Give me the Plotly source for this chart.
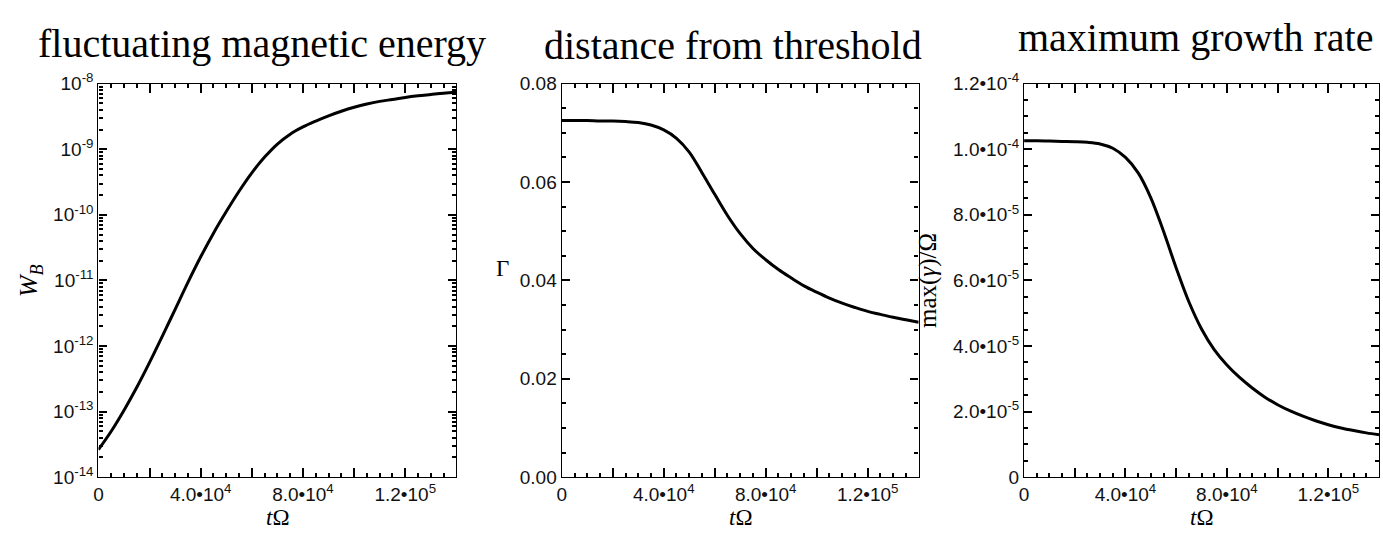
import plotly.graph_objects as go

# Time axis (t * Omega), sampled every 5e3
t_omega = [0, 5e3, 10e3, 15e3, 20e3, 25e3, 30e3, 35e3, 40e3, 45e3, 50e3, 55e3, 60e3, 65e3, 70e3,
           75e3, 80e3, 85e3, 90e3, 95e3, 100e3, 105e3, 110e3, 115e3, 120e3, 125e3, 130e3, 135e3, 140e3]

# Fluctuating magnetic energy W_B
w_b = [2.63e-14, 5.01e-14, 1.047e-13, 2.344e-13, 5.62e-13, 1.413e-12, 3.63e-12, 9.33e-12, 2.29e-11,
       5.25e-11, 1.122e-10, 2.29e-10, 4.37e-10, 7.59e-10, 1.202e-9, 1.698e-9, 2.188e-9, 2.69e-9,
       3.236e-9, 3.80e-9, 4.365e-9, 4.90e-9, 5.37e-9, 5.75e-9, 6.17e-9, 6.53e-9, 6.84e-9, 7.16e-9,
       7.41e-9]

# Distance from threshold Gamma
gamma_dist = [0.0725, 0.0725, 0.0725, 0.0724, 0.0724, 0.0723, 0.0721, 0.0716, 0.0706, 0.0689,
              0.0661, 0.0619, 0.0575, 0.0532, 0.0495, 0.0465, 0.0442, 0.0422, 0.0405, 0.0389,
              0.0376, 0.0364, 0.0354, 0.0345, 0.0337, 0.0331, 0.0325, 0.0320, 0.0315]

# Maximum growth rate max(gamma)/Omega
growth_max = [1.026e-4, 1.026e-4, 1.025e-4, 1.024e-4, 1.023e-4, 1.021e-4, 1.016e-4, 1.003e-4,
              0.975e-4, 0.928e-4, 0.852e-4, 0.750e-4, 0.638e-4, 0.535e-4, 0.452e-4, 0.389e-4,
              0.342e-4, 0.304e-4, 0.272e-4, 0.244e-4, 0.221e-4, 0.202e-4, 0.186e-4, 0.172e-4,
              0.160e-4, 0.150e-4, 0.142e-4, 0.135e-4, 0.129e-4]

# Tick labels
x_tickvals = [0, 2e4, 4e4, 6e4, 8e4, 1e5, 1.2e5, 1.4e5]
x_ticktext = ["0", " ", "4.0•10<sup>4</sup>", " ", "8.0•10<sup>4</sup>", " ", "1.2•10<sup>5</sup>", " "]
wb_tickvals = [1e-14, 1e-13, 1e-12, 1e-11, 1e-10, 1e-9, 1e-8]
wb_ticktext = ["10<sup>-14</sup>", "10<sup>-13</sup>", "10<sup>-12</sup>", "10<sup>-11</sup>",
               "10<sup>-10</sup>", "10<sup>-9</sup>", "10<sup>-8</sup>"]
g_tickvals = [0, 0.02, 0.04, 0.06, 0.08]
g_ticktext = ["0.00", "0.02", "0.04", "0.06", "0.08"]
m_tickvals = [0, 2e-5, 4e-5, 6e-5, 8e-5, 1e-4, 1.2e-4]
m_ticktext = ["0", "2.0•10<sup>-5</sup>", "4.0•10<sup>-5</sup>", "6.0•10<sup>-5</sup>",
              "8.0•10<sup>-5</sup>", "1.0•10<sup>-4</sup>", "1.2•10<sup>-4</sup>"]

W, H = 1383, 534
TICK_FONT = dict(family="Liberation Sans, Arial, sans-serif", size=19, color="#111")
SERIF = "Liberation Serif, Times New Roman, serif"
LINE = dict(color="black", width=3)


def px_x(p):
    return p / W


def px_y(p):
    return 1 - p / H


y_dom = [px_y(486), px_y(74)]
x_doms = [[px_x(94), px_x(454)], [px_x(560), px_x(919)], [px_x(1025), px_x(1382)]]

fig = go.Figure()
series = [w_b, gamma_dist, growth_max]
for i, ys in enumerate(series):
    sfx = "" if i == 0 else str(i + 1)
    fig.add_trace(go.Scatter(x=t_omega, y=ys, mode="lines", line=LINE, line_shape="spline",
                             xaxis="x" + sfx, yaxis="y" + sfx, showlegend=False))

# Boxed frame with inward ticks mirrored on all four sides
base = dict(showline=True, linecolor="black", linewidth=1.4, showgrid=False, zeroline=False,
            tickfont=TICK_FONT, ticks="inside", mirror="allticks", tickcolor="black", tickwidth=1.5)


def minor_ticks(**kw):
    return dict(ticks="inside", ticklen=4, tickcolor="black", tickwidth=1.5, **kw)


for i in range(3):
    sfx = "" if i == 0 else str(i + 1)
    fig.layout["xaxis" + sfx] = dict(
        base, domain=x_doms[i], anchor="y" + sfx, range=[0, 1.4e5],
        tickmode="array", tickvals=x_tickvals, ticktext=x_ticktext, ticklen=9,
        minor=minor_ticks(tick0=0, dtick=5e3))

minor_log = [k * 10.0 ** e for e in range(-14, -8) for k in range(2, 10)]
fig.layout.yaxis = dict(base, domain=y_dom, anchor="x", type="log", range=[-14, -8],
                        tickmode="array", tickvals=wb_tickvals, ticktext=wb_ticktext, ticklen=8,
                        minor=minor_ticks(tickmode="array", tickvals=minor_log))
fig.layout.yaxis2 = dict(base, domain=y_dom, anchor="x2", range=[0, 0.08],
                         tickmode="array", tickvals=g_tickvals, ticktext=g_ticktext, ticklen=8,
                         minor=minor_ticks(tick0=0, dtick=0.005))
fig.layout.yaxis3 = dict(base, domain=y_dom, anchor="x3", range=[0, 1.2e-4],
                         tickmode="array", tickvals=m_tickvals, ticktext=m_ticktext, ticklen=8,
                         minor=minor_ticks(tick0=0, dtick=5e-6))

annotations = []
# Panel titles
for text, cx, cy in [("fluctuating magnetic energy", 258, 32), ("distance from threshold", 732, 34),
                     ("maximum growth rate", 1197, 26)]:
    annotations.append(dict(text=text, x=px_x(cx), y=px_y(cy), xref="paper", yref="paper",
                            showarrow=False, xanchor="center", yanchor="middle",
                            font=dict(family=SERIF, size=40, color="black")))
# x-axis titles
for cx in [274, 740, 1203]:
    annotations.append(dict(text="<i>t</i>Ω", x=px_x(cx), y=px_y(528), xref="paper", yref="paper",
                            showarrow=False, xanchor="center", yanchor="middle",
                            font=dict(family=SERIF, size=23, color="black")))
# y-axis titles
annotations.append(dict(text="<i>W</i><sub><i>B</i></sub>", x=px_x(26), y=px_y(280), xref="paper",
                        yref="paper", showarrow=False, xanchor="center", yanchor="middle",
                        textangle=-90, font=dict(family=SERIF, size=26, color="black")))
annotations.append(dict(text="Γ", x=px_x(500), y=px_y(268), xref="paper",
                        yref="paper", showarrow=False, xanchor="center", yanchor="middle",
                        font=dict(family=SERIF, size=23, color="black")))
annotations.append(dict(text="max(<i>γ</i>)/Ω", x=px_x(929), y=px_y(280), xref="paper",
                        yref="paper", showarrow=False, xanchor="center", yanchor="middle",
                        textangle=-90, font=dict(family=SERIF, size=25, color="black")))

fig.update_layout(width=W, height=H, margin=dict(l=0, r=0, t=0, b=0),
                  paper_bgcolor="white", plot_bgcolor="white", annotations=annotations)

fig.write_html("out.html")
